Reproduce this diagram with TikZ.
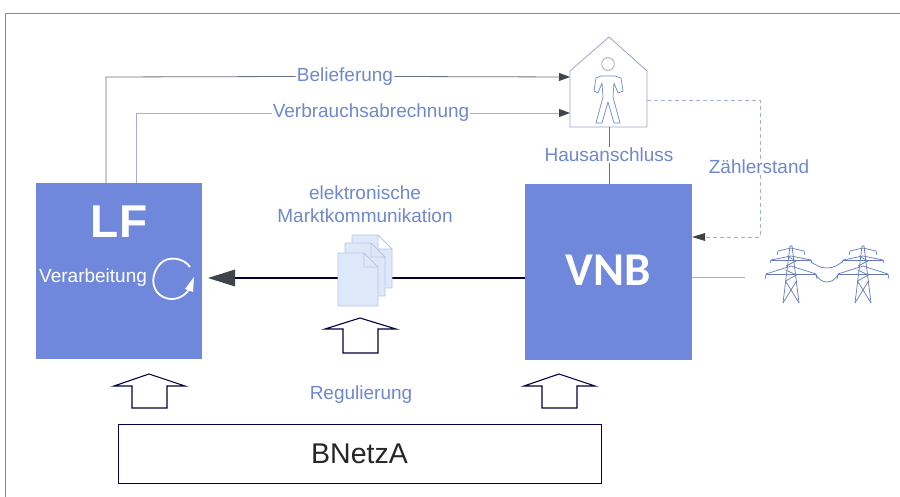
\documentclass[tikz,border=0pt]{standalone}
\usepackage{fontspec}
\setmainfont{Liberation Sans}
\newfontfamily\carlitofont{Carlito}
\usetikzlibrary{arrows.meta,calc}
\definecolor{boxblue}{HTML}{6F88DC}
\definecolor{txtblue}{HTML}{7088CC}
\definecolor{framec}{HTML}{7488D8}
\definecolor{linegray}{HTML}{6A7080}
\definecolor{linelight}{HTML}{A4AEDC}
\definecolor{docfill}{HTML}{DFE8F8}
\definecolor{docline}{HTML}{B4C6EA}
\definecolor{headc}{HTML}{3F4448}
\tikzset{
 bluebox/.style={draw=none,fill=boxblue,minimum width=#1,inner sep=0pt,outer sep=0pt},
 lbl/.style={text=txtblue,font=\fontsize{19}{22}\selectfont,inner sep=1pt},
 wlbl/.style={text=white,inner sep=0pt},
 conn/.style={draw=linegray,line width=.8pt},
 connl/.style={draw=linelight,line width=.8pt},
 arrowtip/.style={-{Triangle[length=11pt,width=8pt,fill=headc,color=headc]}},
 dashline/.style={draw=linelight,line width=.9pt,dash pattern=on 4pt off 3pt},
 hollow/.style={draw=black!75!blue,line width=1.1pt,fill=white,line join=miter},
 docsheet/.style={draw=docline,fill=docfill,line width=.8pt},
 tower/.style={draw=txtblue!90!black,line width=.7pt},
}
\newcommand{\pylon}[1]{%
 \begin{scope}[shift={(#1,0)}]
 \draw[tower] (-8,303)--(-1,246)--(1,246)--(8,303);
 \draw[tower] (-5.5,281)--(8,303) (5.5,281)--(-8,303) (-5.5,281)--(5.5,275)--(-5.5,270) (-5,266)--(5,261)--(-4,256);
 \draw[tower] (-14,255)--(-13,251)--(0,248)--(13,251)--(14,255);
 \draw[tower] (-21,263)--(-20,260)--(0,256)--(20,260)--(21,263);
 \draw[tower] (-20,260)--(20,260);
 \draw[tower] (-26,279)--(-25,274)--(0,266)--(25,274)--(26,279);
 \draw[tower] (-25,274)--(25,274);
 \end{scope}}
\begin{document}
\begin{tikzpicture}[x=1pt,y=-1pt]
\useasboundingbox (0,0) rectangle (900,497);
\fill[white] (0,0) rectangle (900,497);
% frame
\draw[framec,line width=1pt] (5.5,497)--(5.5,13.5)--(900,13.5);
% boxes
\node[bluebox=166pt,minimum height=176pt,anchor=north west] (lf) at (36,183) {};
\node[bluebox=167pt,minimum height=176pt,anchor=north west] (vnb) at (525,184) {};
\node[wlbl,font=\fontsize{46}{48}\selectfont\bfseries] (lft) at (119,222) {LF};
\node[wlbl,font=\carlitofont\fontsize{47}{48}\selectfont\bfseries] (vnbt) at (608,270) {VNB};
\node[wlbl,font=\fontsize{19}{22}\selectfont,anchor=west] (verarb) at (39,278) {Verarbeitung};
% cycle arrow
\draw[white,line width=1.8pt] (190,267) .. controls (184,258) and (168,255) .. (160,264) .. controls (151,274) and (151,288) .. (160,295) .. controls (169,302) and (183,300) .. (190,288);
\fill[white] (185,289)--(194,277)--(193,292)--cycle;
% house
\draw[draw=linelight!80!gray,line width=.8pt,fill=white] (570,127)--(570,71)--(609,37)--(647,71)--(647,127)--cycle;
\coordinate (hl1) at (570,77); \coordinate (hl2) at (570,113);
\coordinate (hr) at (647,100); \coordinate (hb) at (609,127);
% person
\draw[linelight!80!gray,line width=.8pt,fill=white] (608,64) circle (6.3);
\draw[draw=txtblue,line width=.7pt,line join=round] (601,76)--(615,76)--(621,78)--(623,91)--(618,93)--(614,83)--(613,97)--(620,123)--(614,123)--(608,102)--(602,123)--(596,123)--(603,97)--(602,83)--(598,93)--(594,91)--(596,78)--cycle;
% connectors
\coordinate (lfa) at (106,183); \coordinate (lfb) at (136,183);
\node[lbl] (bel) at (345,76.5) {Belieferung};
\node[lbl] (verb) at (371,113) {Verbrauchsabrechnung};
\draw[conn] (lfa)--(106,77)--(bel.west);
\draw[conn,arrowtip] (bel.east)--(hl1);
\draw[connl] (lfb)--(136,113)--(verb.west);
\draw[connl,arrowtip] (verb.east)--(hl2);
\node[lbl] (haus) at (609,155) {Hausanschluss};
\draw[conn] (hb)--(haus.north);
\draw[conn] (haus.south)--(609,184);
\node[lbl] (zs) at (759,167) {Zählerstand};
\coordinate (dk1) at (760,100);
\coordinate (dk2) at (760,237);
\draw[dashline] (hr)--(dk1)--(zs.north-|dk1);
\coordinate (vnbr) at (692,237);
\draw[dashline] (zs.south-|dk1)--(dk2)--(705,237);
\draw[draw=none,fill=headc] (vnbr)--(705,233)--(705,241)--cycle;
% main arrow
\node[lbl] (elek) at (365,193) {elektronische};
\node[lbl] (markt) at (365,216) {Marktkommunikation};
\draw[draw=black!80!blue,line width=2pt] (525,278)--(390,278);
\draw[draw=black!80!blue,line width=2pt] (338,278)--(232,278);
\draw[draw=none,fill=headc] (208,278)--(235,269.5)--(235,286.5)--cycle;
% documents
\draw[docsheet] (352,235)--(378,235)--(392,249)--(392,288)--(352,288)--cycle (378,235)--(378,249)--(392,249);
\draw[docsheet] (345,243)--(371,243)--(385,257)--(385,296)--(345,296)--cycle (371,243)--(371,257)--(385,257);
\draw[docsheet] (338,253)--(364,253)--(378,267)--(378,306)--(338,306)--cycle (364,253)--(364,267)--(378,267);
% hollow arrows
\draw[hollow] (149,374)--(185,386)--(167,386)--(167,408)--(132,408)--(132,386)--(114,386)--cycle;
\draw[hollow] (360,318)--(396,329)--(378,329)--(378,353)--(343,353)--(343,329)--(325,329)--cycle;
\draw[hollow] (559,374)--(595,386)--(577,386)--(577,408)--(542,408)--(542,386)--(524,386)--cycle;
\node[lbl] (reg) at (361,395) {Regulierung};
\node[draw=black!70!blue,line width=1pt,minimum width=483pt,minimum height=59pt,inner sep=0pt,font=\fontsize{28.5}{32}\selectfont,text=black!85] (bnetza) at (359.5,453.5) {BNetzA};
% grid
\coordinate (gridend) at (745,277);
\draw[connl] (vnb.east|-gridend)--(gridend);
\pylon{791}
\pylon{863}
\draw[tower] (811,262)..controls (816,265) and (820,268) ..(827,268) .. controls (834,268) and (838,265) .. (842,262);
\draw[tower] (816,275)..controls (819,279) and (822,282) ..(827,282) .. controls (832,282) and (835,279) .. (838,275);
\end{tikzpicture}
\end{document}
